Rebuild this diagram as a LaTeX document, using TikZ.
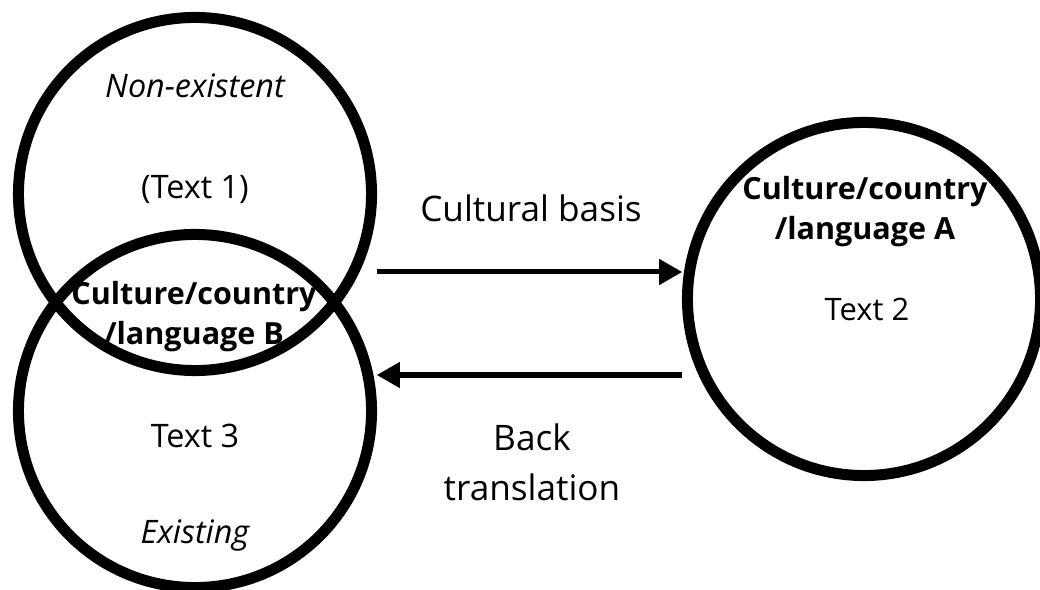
\documentclass[tikz,border=0pt]{standalone}
\usepackage{fontspec}
\setmainfont{Open Sans}
\usetikzlibrary{shapes.geometric, arrows}

\begin{document}
\begin{tikzpicture}[x=0.025cm, y=-0.025cm]
        \tikzstyle{ring} = [circle, minimum size=8.825cm, line width=0.275cm, draw=black]
        \tikzstyle{lbl} = [anchor=base, inner sep=0pt, align=center, font=\fontsize{23}{29}\selectfont]
        \tikzstyle{head} = [lbl, font=\fontsize{21.7}{29}\selectfont\bfseries]
        \tikzstyle{edge} = [lbl, font=\fontsize{25}{35.5}\selectfont]
        \tikzstyle{arrow} = [line width=0.125cm,->,>=triangle 60]
        \useasboundingbox (0,0) rectangle (1040,590);
        \node [ring] (1) at (195, 194) {};
        \node [ring] (2) at (195, 411) {};
        \node [ring] (3) at (864, 299) {};
        % base of a two line label sits on its last line
        \node [lbl] (4) at (195, 98) {\itshape Non-existent};
        \node [lbl] (5) at (195, 199) {(Text 1)};
        \node [head] (6) at (194, 345) {Culture/country\\/language B};
        \node [lbl] (7) at (195, 447) {Text 3};
        \node [lbl] (8) at (195, 543) {\itshape Existing};
        \node [head] (9) at (865, 240) {Culture/country\\/language A};
        \node [lbl, font=\fontsize{22}{29}\selectfont] (10) at (867, 321) {Text 2};
        \node [edge] (11) at (531, 222) {Cultural basis};
        \node [edge] (12) at (532, 500) {Back\\translation};
     \draw[arrow] (1.east |- 0,272) -- (3.west |- 0,272);
     \draw[arrow] (3.west |- 0,375) -- (2.east |- 0,375);
    \end{tikzpicture}
\end{document}
